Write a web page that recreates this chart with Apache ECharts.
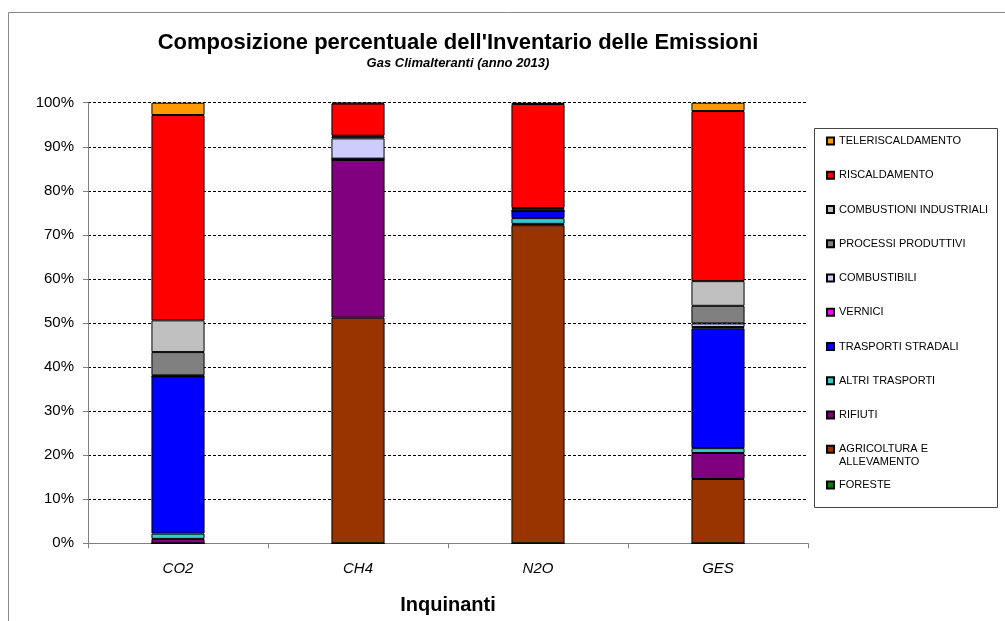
<!DOCTYPE html>
<html>
<head>
<meta charset="utf-8">
<script src="https://cdn.jsdelivr.net/npm/echarts@6/dist/echarts.min.js"></script>
<style>
html,body{margin:0;padding:0;background:#fff;}
#chart{width:1005px;height:621px;}
</style>
</head>
<body>
<div id="chart"></div>
<script>
// ---- DATA ----
const categories = ['CO2', 'CH4', 'N2O', 'GES'];
const yTicks = [0, 10, 20, 30, 40, 50, 60, 70, 80, 90, 100];

// values in percent, stack order bottom -> top
const foreste            = [0,    0,    0,    0];
const agricoltura        = [0,    51.2, 72.2, 14.6];
const rifiuti            = [1.0,  35.8, 0.3,  5.9];
const altriTrasporti     = [1.2,  0,    1.3,  1.1];
const trasportiStradali  = [35.7, 0.3,  1.6,  27.2];
const vernici            = [0,    0,    0,    0.3];
const combustibili       = [0.2,  4.6,  0.1,  0.8];
const processiProduttivi = [5.3,  0.4,  0.3,  4.0];
const combustioniInd     = [7.2,  0.2,  0.3,  5.6];
const riscaldamento      = [46.6, 7.3,  23.6, 38.6];
const teleriscaldamento  = [2.8,  0.2,  0.3,  1.9];

const seriesNames = ['FORESTE', 'AGRICOLTURA E ALLEVAMENTO', 'RIFIUTI', 'ALTRI TRASPORTI',
  'TRASPORTI STRADALI', 'VERNICI', 'COMBUSTIBILI', 'PROCESSI PRODUTTIVI',
  'COMBUSTIONI INDUSTRIALI', 'RISCALDAMENTO', 'TELERISCALDAMENTO'];
const seriesValues = [foreste, agricoltura, rifiuti, altriTrasporti, trasportiStradali,
  vernici, combustibili, processiProduttivi, combustioniInd, riscaldamento, teleriscaldamento];
const seriesColors = ['#008000', '#993300', '#800080', '#33CCCC', '#0000FF', '#FF00FF',
  '#CCCCFF', '#808080', '#C0C0C0', '#FF0000', '#FF9900'];

const FONT = 'Arial, "Liberation Sans", sans-serif';

const chart = echarts.init(document.getElementById('chart'), null, {renderer: 'canvas'});

const series = seriesNames.map((n, i) => ({
  name: n,
  type: 'bar',
  stack: 'tot',
  barWidth: '29.5%',
  data: seriesValues[i],
  itemStyle: {color: seriesColors[i], borderColor: '#000', borderWidth: 1},
  emphasis: {disabled: true},
  animation: false
}));

const legendBase = {
  orient: 'vertical',
  left: 826,
  padding: 0,
  itemWidth: 7,
  itemHeight: 7,
  icon: 'rect',
  selectedMode: false,
  textStyle: {fontFamily: FONT, fontSize: 11, lineHeight: 13, color: '#000'}
};

const option = {
  animation: false,
  textStyle: {fontFamily: FONT},
  title: [
    {text: "Composizione percentuale dell'Inventario delle Emissioni", left: 458, top: 32, textAlign: 'center',
     padding: 0, textStyle: {fontFamily: FONT, fontSize: 22, fontWeight: 'bold', color: '#000'}},
    {text: 'Gas Climalteranti (anno 2013)', left: 458, top: 57, textAlign: 'center', padding: 0,
     textStyle: {fontFamily: FONT, fontSize: 13, fontWeight: 'bold', fontStyle: 'italic', color: '#000'}}
  ],
  grid: {left: 88, right: 197, top: 102.7, bottom: 77.7, containLabel: false},
  legend: [
    Object.assign({}, legendBase, {
      top: 134.5, itemGap: 21.25,
      data: ['TELERISCALDAMENTO', 'RISCALDAMENTO', 'COMBUSTIONI INDUSTRIALI', 'PROCESSI PRODUTTIVI',
        'COMBUSTIBILI', 'VERNICI', 'TRASPORTI STRADALI', 'ALTRI TRASPORTI', 'RIFIUTI']
    }),
    Object.assign({}, legendBase, {
      top: 429.75,
      data: ['AGRICOLTURA E ALLEVAMENTO'],
      formatter: function () { return ' \nAGRICOLTURA E\nALLEVAMENTO'; }
    }),
    Object.assign({}, legendBase, {
      top: 478.5,
      data: ['FORESTE']
    })
  ],
  xAxis: {
    type: 'category',
    data: categories,
    boundaryGap: true,
    name: 'Inquinanti',
    nameLocation: 'middle',
    nameGap: 52,
    nameTextStyle: {fontFamily: FONT, fontSize: 20, fontWeight: 'bold', color: '#000'},
    axisLine: {lineStyle: {color: '#808080', width: 1}},
    axisTick: {show: true, length: 5, lineStyle: {color: '#808080'}},
    axisLabel: {fontFamily: FONT, fontSize: 15, fontStyle: 'italic', color: '#000', margin: 18}
  },
  yAxis: {
    type: 'value',
    min: yTicks[0],
    max: yTicks[yTicks.length - 1],
    interval: 10,
    axisLine: {show: true, lineStyle: {color: '#808080', width: 1}},
    axisTick: {show: true, length: 5, lineStyle: {color: '#808080'}},
    axisLabel: {fontFamily: FONT, fontSize: 15, color: '#000', margin: 14, formatter: '{value}%'},
    splitLine: {show: true, lineStyle: {color: '#000', type: [3, 2], width: 1}}
  },
  graphic: [
    {type: 'rect', shape: {x: 8.5, y: 12.5, width: 1100, height: 700}, silent: true,
     style: {fill: 'none', stroke: '#888', lineWidth: 1}, z: -10},
    {type: 'rect', shape: {x: 814.5, y: 128.5, width: 183, height: 379}, silent: true,
     style: {fill: 'none', stroke: '#444', lineWidth: 1}, z: -10}
  ],
  series: series
};

chart.setOption(option);
</script>
</body>
</html>
